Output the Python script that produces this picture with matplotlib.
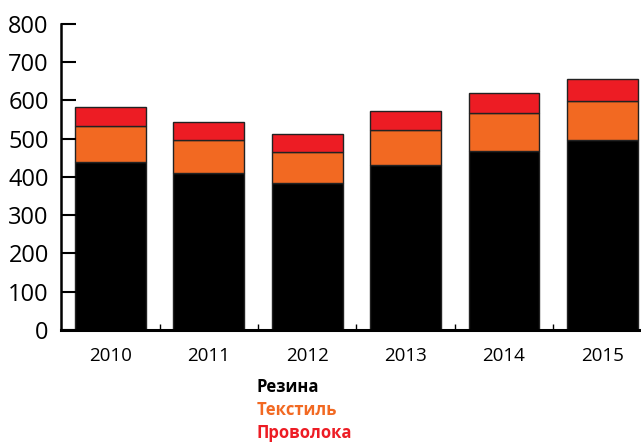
import numpy as np
import matplotlib.pyplot as plt

plt.rcParams['font.family'] = ['Open Sans', 'DejaVu Sans']

# tonnes by year, stacked
years = ['2010', '2011', '2012', '2013', '2014', '2015']
rubber = [439, 410, 384, 431, 468, 495]
textile = [94, 87, 82, 91, 99, 102]
wire = [50, 47, 45, 49, 53, 58]

labels = ['Резина', 'Текстиль', 'Проволока']
colors = ['#000000', '#F26922', '#ED1C24']

fig = plt.figure(figsize=(6.41, 4.42), dpi=100)
ax = fig.add_axes([0.0956, 0.2534, 0.921, 0.693])

x = np.arange(len(years))
w = 0.72
bottom = np.zeros(len(years))
for vals, c in zip([rubber, textile, wire], colors):
    ax.bar(x, vals, w, bottom=bottom, color=c, edgecolor='#222222', linewidth=1.0)
    bottom += np.array(vals)

ax.set_xlim(-0.5, len(years) - 0.5)
ax.set_ylim(0, 800)
ax.set_yticks(range(0, 801, 100))
ax.tick_params(axis='y', direction='in', length=11, width=1.5, pad=9, labelsize=17)

# category ticks between bars, labels centred under them
ax.set_xticks(x[:-1] + 0.5)
ax.set_xticklabels([])
ax.set_xticks(x, minor=True)
ax.set_xticklabels(years, minor=True, fontsize=13.5)
ax.tick_params(axis='x', which='major', direction='in', length=4, width=1)
ax.tick_params(axis='x', which='minor', length=0, pad=12)

for s in ['top', 'right']:
    ax.spines[s].set_visible(False)
ax.spines['left'].set_linewidth(1.8)
ax.spines['bottom'].set_linewidth(2.2)

# legend as coloured text
for i, (lab, c) in enumerate(zip(labels, colors)):
    fig.text(257 / 641, 1 - (387 + i * 23) / 442, lab, color=c,
             fontsize=12, fontweight='bold', va='center', ha='left')

fig.savefig('out.png', dpi=100)
